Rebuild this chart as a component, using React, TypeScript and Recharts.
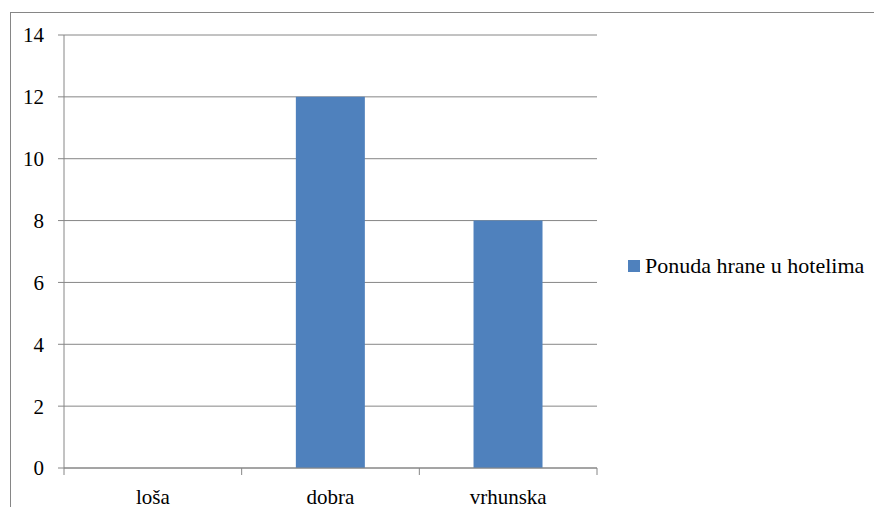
import React from "react";
import { BarChart, Bar, XAxis, YAxis, CartesianGrid, Legend } from "recharts";

const categories = ["loša", "dobra", "vrhunska"];
const values = [0, 12, 8];
const yTicks = [0, 2, 4, 6, 8, 10, 12, 14];
const seriesName = "Ponuda hrane u hotelima";

const data = categories.map((c, i) => ({ name: c, value: values[i] }));

const FONT = "Liberation Serif, Tinos, Times New Roman, DejaVu Serif, Noto Serif, serif";
const GRAY = "#868686";

const XTick = (props: any) => {
  const { x, y, payload, index } = props;
  const off = payload.offset || 0;
  const last = index === categories.length - 1;
  return (
    <g>
      <line x1={x - off} x2={x - off} y1={y - 7} y2={y} stroke={GRAY} strokeWidth={1} />
      {last && <line x1={x + off} x2={x + off} y1={y - 7} y2={y} stroke={GRAY} strokeWidth={1} />}
      <text x={x} y={y + 29} textAnchor="middle" style={{ fontFamily: FONT }} fontSize={21} fill="#000">
        {payload.value}
      </text>
    </g>
  );
};

const YTick = (props: any) => {
  const { x, y, payload } = props;
  return (
    <text x={x} y={y} dy="0.355em" textAnchor="end" style={{ fontFamily: FONT }} fontSize={21} fill="#000">
      {payload.value}
    </text>
  );
};

const LegendContent = () => (
  <div style={{ display: "flex", alignItems: "center", fontFamily: FONT, fontSize: 22, color: "#000", whiteSpace: "nowrap" }}>
    <div style={{ width: 12, height: 12, background: "#4F81BD", marginRight: 5 }} />
    <span>{seriesName}</span>
  </div>
);

export default function App() {
  return (
    <div style={{ position: "relative", margin: -8, width: 882, height: 515, overflow: "hidden", background: "#fff" }}>
      <div style={{ position: "absolute", left: 10, top: 12, width: 1000, height: 1000, border: `1px solid ${GRAY}`, boxSizing: "border-box" }} />
      <div style={{ position: "absolute", left: 0, top: 0 }}>
        <BarChart
          width={882}
          height={515}
          data={data}
          margin={{ top: 35, right: 285, bottom: 17, left: 0 }}
          barCategoryGap="30.5%"
        >
          <CartesianGrid vertical={false} stroke={GRAY} strokeWidth={1} />
          <XAxis
            dataKey="name"
            axisLine={{ stroke: GRAY }}
            tickLine={false}
            tickSize={7}
            tickMargin={0}
            height={30}
            interval={0}
            tick={<XTick />}
          />
          <YAxis
            domain={[0, 14]}
            ticks={yTicks}
            width={64}
            axisLine={{ stroke: GRAY }}
            tickLine={{ stroke: GRAY }}
            tickSize={6}
            tickMargin={14}
            interval={0}
            tick={<YTick />}
          />
          <Legend
            layout="horizontal"
            align="center"
            verticalAlign="middle"
            content={<LegendContent />}
            wrapperStyle={{ position: "absolute", left: 628, top: 253, width: 260 }}
          />
          <Bar dataKey="value" name={seriesName} fill="#4F81BD" isAnimationActive={false} />
        </BarChart>
      </div>
    </div>
  );
}
